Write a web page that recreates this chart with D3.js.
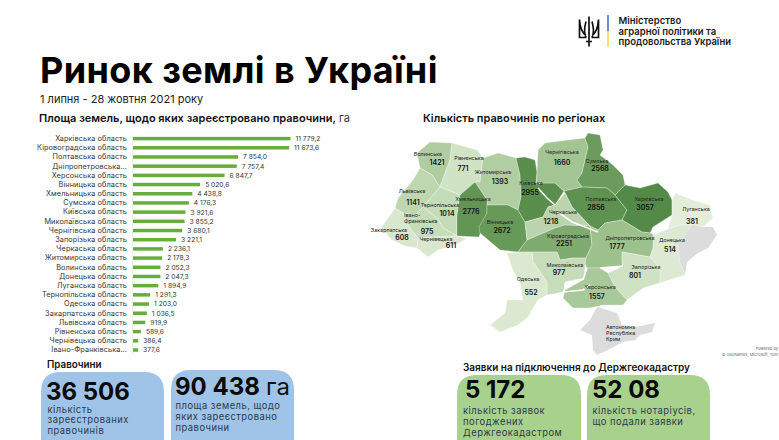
<!DOCTYPE html>
<html><head><meta charset="utf-8">
<script src="https://cdn.jsdelivr.net/npm/d3@7"></script>
<style>html,body{margin:0;padding:0;background:#fff}svg{display:block;font-family:Inter,"Noto Sans",sans-serif}</style>
</head><body><svg id="c" width="779" height="440"></svg>
<script>
const areaLabels=["Харківська область","Кіровоградська область","Полтавська область","Дніпропетровська...","Херсонська область","Вінницька область","Хмельницька область","Сумська область","Київська область","Миколаївська область","Чернігівська область","Запорізька область","Черкаська область","Житомирська область","Волинська область","Донецька область","Луганська область","Тернопільська область","Одеська область","Закарпатська область","Львівська область","Рівненська область","Чернівецька область","Івано-Франківська..."];
const areaValues=[11779.2,11673.6,7854.0,7757.4,6847.7,5020.6,4438.8,4176.3,3921.6,3855.2,3680.1,3221.1,2236.1,2178.3,2052.3,2047.3,1894.9,1291.3,1203.0,1036.5,919.9,589.6,386.4,377.6];
const regionNames=["Волинська","Рівненська","Житомирська","Львівська","Тернопільська","Хмельницька","Вінницька","Київська","Чернігівська","Сумська","Полтавська","Харківська","Луганська","Черкаська","Кіровоградська","Дніпропетровська","Донецька","Запорізька","Херсонська","Миколаївська","Одеська","Чернівецька","Івано-Франківська","Закарпатська"];
const regionCounts=[1421,771,1393,1141,1014,2776,2672,2955,1660,2568,2856,3057,381,1218,2251,1777,514,801,1557,977,552,611,975,608];
const regionLabelAt=[[428,154],[469,158],[493,172],[412,191],[440,205],[473,199],[500,222],[531,183],[562,152],[597,161],[601,199],[649,199],[696,209],[563,212],[568,236],[630,238],[672,240],[646,267],[600,287],[565,265],[528,279],[436,239],[404,217],[389,230]];
const regionCountAt=[[437,162],[463,168],[500,181],[413,202],[447,213],[471,211],[502,230],[530,192],[562,162],[600,168],[596,207],[645,207],[692,221],[551,221],[564,243],[617,246],[670,249],[635,275],[597,296],[559,272],[531,292],[451,245],[427,231],[402,237]];
const regionShapes=[
[[417,153],[430,142],[452,143],[450,160],[440,187],[432,175],[420,168]],
[[452,143],[477,150],[483,158],[480,182],[475,182],[467,190],[460,195],[440,187],[450,160]],
[[483,158],[498,153],[516,158],[520,175],[521,197],[518,210],[508,205],[487,205],[487,200],[475,182],[480,182]],
[[420,168],[432,175],[440,187],[423,207],[415,215],[403,213],[395,208],[398,198],[413,180]],
[[440,187],[460,195],[457,215],[457,236],[443,228],[437,218],[423,207]],
[[460,195],[475,182],[487,200],[487,213],[479,237],[457,236],[457,215]],
[[487,205],[508,205],[518,210],[525,222],[527,240],[518,252],[500,250],[480,233],[479,227],[487,213]],
[[516,158],[525,157],[535,160],[537,172],[536,185],[541,183],[555,183],[564,191],[555,205],[548,207],[543,217],[525,222],[518,210],[521,197],[520,175]],
[[538,150],[545,143],[568,140],[585,138],[588,147],[582,173],[577,180],[582,187],[564,191],[555,183],[541,183],[536,185],[537,172]],
[[585,138],[588,133],[600,135],[603,150],[600,155],[613,165],[623,175],[625,185],[615,195],[607,188],[582,187],[577,180],[582,173],[588,147]],
[[564,191],[582,187],[607,188],[615,195],[627,210],[622,220],[605,223],[598,230],[590,226],[572,207],[565,193]],
[[615,195],[625,185],[640,188],[658,183],[668,192],[672,200],[672,215],[653,227],[650,233],[642,232],[622,220],[627,210]],
[[675,193],[693,200],[710,205],[713,218],[703,227],[692,225],[680,225],[668,229],[672,215],[672,200]],
[[555,205],[565,193],[572,207],[590,226],[565,225],[555,228],[527,240],[525,222],[543,217],[548,207]],
[[518,252],[527,240],[555,228],[565,225],[590,226],[592,245],[586,258],[573,258],[560,260],[557,252],[532,252]],
[[590,226],[598,230],[605,223],[622,220],[642,232],[650,233],[655,235],[653,248],[650,257],[622,252],[622,262],[623,266],[600,268],[587,268],[584,262],[586,258],[592,245]],
[[653,235],[668,229],[680,225],[692,225],[678,245],[680,262],[685,275],[660,283],[660,268],[650,257],[653,248]],
[[622,252],[650,257],[660,268],[660,283],[643,288],[627,300],[615,287],[608,273],[623,266],[622,262]],
[[565,290],[583,280],[587,268],[600,268],[608,273],[615,287],[627,300],[623,305],[603,305],[590,308],[573,308],[563,298]],
[[532,252],[557,252],[560,260],[573,258],[586,258],[584,278],[565,282],[563,292],[547,295],[547,282],[533,262]],
[[507,253],[518,252],[532,252],[533,262],[547,282],[547,295],[538,300],[528,317],[518,325],[500,332],[490,325],[505,313],[507,300],[523,300],[520,283],[512,268]],
[[418,238],[430,237],[457,236],[466,239],[455,245],[438,250],[428,257],[417,248]],
[[403,213],[415,215],[423,207],[437,218],[443,228],[457,236],[430,237],[418,238],[410,228]],
[[388,218],[395,208],[403,213],[410,228],[418,238],[417,248],[405,246],[392,240],[381,228]]
];
const occupiedShapes=[
[[692,225],[703,227],[713,227],[717,235],[708,248],[698,253],[687,262],[685,275],[680,262],[678,245]],
[[597,307],[617,313],[622,325],[635,327],[655,323],[652,332],[640,335],[635,340],[623,342],[608,350],[597,355],[593,350],[592,335],[580,330],[590,320]]
];
const riverLines=[[[538,188],[547,198],[555,205]],[[558,212],[572,222],[598,232]],[[600,268],[623,266]],[[587,268],[583,280]],[[563,292],[583,290],[590,285]]];
const crimeaLines=["Автономна","Республіка","Крим"];
const logoLines=["Міністерство","аграрної політики та","продовольства України"];

const svg=d3.select("#c");
const t=(x,y,s,size,w,fill,extra)=>{const e=svg.append("text").attr("x",x).attr("y",y).text(s).attr("font-size",size).attr("font-weight",w).attr("fill",fill||"#111");if(extra)extra(e);return e;};

// header
t(40,83,"Ринок землі в Україні",36,700,"#000",e=>e.attr("letter-spacing",0.4));
t(40,103,"1 липня - 28 жовтня 2021 року",11,400,"#222");
logoLines.forEach((s,i)=>t(618.5,24+i*10.6,s,9.5,600,"#1a1a1a"));
svg.append("line").attr("x1",608).attr("x2",608).attr("y1",15).attr("y2",31).attr("stroke","#2a63b0").attr("stroke-width",1.4);
svg.append("line").attr("x1",608).attr("x2",608).attr("y1",31).attr("y2",47).attr("stroke","#f5d230").attr("stroke-width",1.4);
const tri=svg.append("g").attr("transform","translate(589,31.5)").attr("fill","none").attr("stroke","#111").attr("stroke-width",1.7);
tri.append("path").attr("d","M0,-15 L0,15 M-9.5,-12 L-9.5,6 L-2.5,6 M9.5,-12 L9.5,6 L2.5,6 M-3,6 C-6,0 -4,-6 -3,-10 M3,6 C6,0 4,-6 3,-10 M-3,10 L3,10 M-9.5,-12 C-9,-4 -6,2 -3,4 M9.5,-12 C9,-4 6,2 3,4");

// bars
t(39,122,"Площа земель, щодо яких зареєстровано правочини,",11,600,"#111").append("tspan").text(" га").attr("font-weight",400).attr("fill","#333");
const x=d3.scaleLinear().domain([0,11779.2]).range([133,290.5]);
const y=d3.scaleBand().domain(areaLabels).range([134,354.6]).paddingInner(0.62).paddingOuter(0.31);
const fmt=d3.formatLocale({decimal:",",thousands:" ",grouping:[3]}).format(",.1f");
const ax=svg.append("g").attr("transform","translate(132,0)").call(d3.axisLeft(y).tickSize(0).tickPadding(5));
ax.selectAll("text").attr("font-size",7.3).attr("letter-spacing",.1).attr("fill","#333").attr("font-family","Inter");
ax.select(".domain").attr("stroke","#ddd").attr("stroke-width",.5);
svg.selectAll(".bar").data(areaValues).join("rect").attr("class","bar").attr("x",x(0)).attr("y",(d,i)=>y(areaLabels[i])).attr("width",d=>x(d)-x(0)).attr("height",y.bandwidth()).attr("fill","#67ad3c");
svg.selectAll(".val").data(areaValues).join("text").attr("class","val").attr("x",d=>x(d)+5).attr("y",(d,i)=>y(areaLabels[i])+y.bandwidth()/2+2.4).text(fmt).attr("font-size",6.7).attr("fill","#333");

// map
t(423,122,"Кількість правочинів по регіонах",11,600,"#111");
const color=d3.scaleLinear().domain([381,1000,1800,2500,3057]).range(["#e3eeda","#c6dcb9","#9cc08c","#6f9f60","#548a48"]);
const line=d3.line().curve(d3.curveLinearClosed);
svg.append("g").selectAll("path").data(regionShapes).join("path").attr("d",line).attr("fill",(d,i)=>color(regionCounts[i])).attr("stroke","#fff").attr("stroke-width",.3);
svg.append("g").selectAll("path").data(occupiedShapes).join("path").attr("d",line).attr("fill","#dcdcdc");
svg.append("g").selectAll("path").data(riverLines).join("path").attr("d",d3.line()).attr("fill","none").attr("stroke","#fff").attr("stroke-width",1.6);
const lab=svg.append("g").attr("text-anchor","middle");
regionNames.forEach((n,i)=>{
  const [lx,ly]=regionLabelAt[i];
  if(n==="Івано-Франківська"){
    ["Івано-","Франківська"].forEach((s,k)=>lab.append("text").attr("text-anchor","start").attr("x",lx).attr("y",ly+k*5.5).text(s).attr("font-size",5.4).attr("fill","#222"));
  } else lab.append("text").attr("x",lx).attr("y",ly+1.7).text(n).attr("font-size",5.4).attr("fill","#222");
  const [cx,cy]=regionCountAt[i];
  lab.append("text").attr("x",cx).attr("y",cy+2.5).text(regionCounts[i]).attr("font-size",7).attr("font-weight",600).attr("fill","#111");
});
crimeaLines.forEach((s,i)=>t(606,329+i*5.8,s,5.4,400,"#222"));
t(778,349.5,"Powered by",4,400,"#666",e=>e.attr("text-anchor","end"));
t(778,355.5,"© GeoNames, Microsoft, Tom",4,400,"#666",e=>e.attr("text-anchor","end"));

// cards
const cards=[
 {x:41,y:372,w:123,f:"#a0c4e8",num:"36 506",nx:46,ny:400,lx:47.5,ly:[412.5,423,433.5],lines:["кількість","зареєстрованих","правочинів"]},
 {x:171,y:370,w:123,f:"#a0c4e8",num:"90 438",nx:175,ny:395,lx:175.5,ly:[409,420,431],lines:["площа земель, щодо","яких зареєстровано","правочини"],unit:"га"},
 {x:457,y:375,w:124,f:"#a9d18e",num:"5 172",nx:465,ny:398,lx:463,ly:[414,425,436],lines:["кількість заявок","погоджених","Держгеокадастром"]},
 {x:587,y:375,w:123,f:"#a9d18e",num:"52 08",nx:592,ny:398,lx:592.5,ly:[414,425],lines:["кількість нотаріусів,","що подали заявки"]}
];
t(47,368,"Правочини",9.8,600,"#111");
t(463,371,"Заявки на підключення до Держгеокадастру",10,600,"#111");
cards.forEach(c=>{
  svg.append("path").attr("d",`M${c.x},441 V${c.y+20} Q${c.x},${c.y} ${c.x+20},${c.y} H${c.x+c.w-20} Q${c.x+c.w},${c.y} ${c.x+c.w},${c.y+20} V441 Z`).attr("fill",c.f);
  t(c.nx,c.ny,c.num,24,700,"#0a0a0a");
  if(c.unit)t(266,c.ny,c.unit,24,400,"#111");
  c.lines.forEach((s,i)=>t(c.lx,c.ly[i],s,9.4,400,"#2a3a4a",e=>e.attr("letter-spacing",.5)));
});
</script></body></html>
